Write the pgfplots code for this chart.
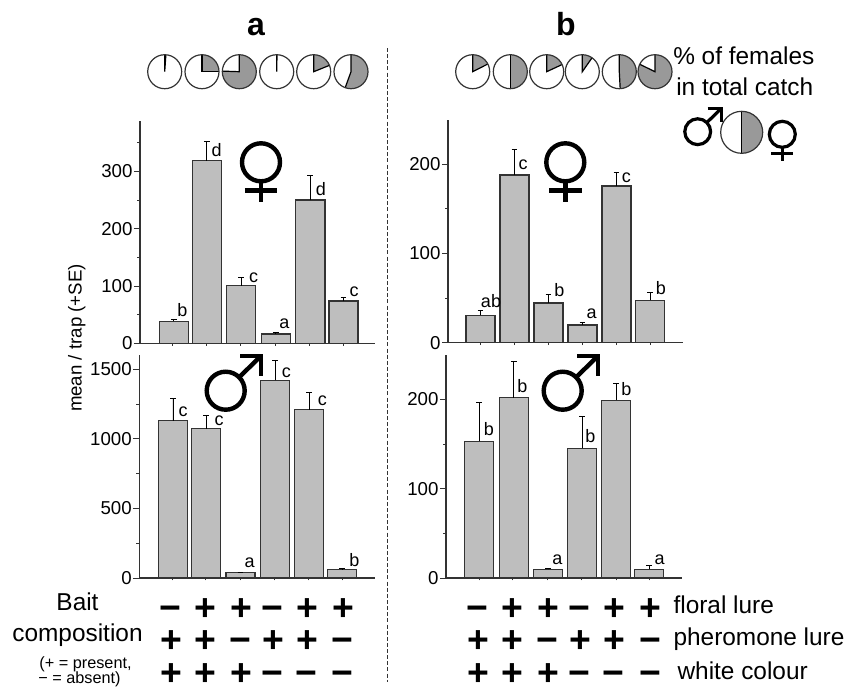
\documentclass[border=0pt]{standalone}
\usepackage{fontspec}
\setmainfont{Liberation Sans}
\usepackage{pgfplots}
\usepackage{pgfplotstable}
\pgfplotsset{compat=1.18}

\definecolor{barfill}{HTML}{BEBEBE}
\definecolor{piefill}{HTML}{999999}
\definecolor{axisdark}{HTML}{333333}

% one table per panel: bar centre, mean, SE
\pgfplotstableread{
x y e
173.7 38.4 4.0
206.7 318.6 34.4
241.2 100.6 13.9
275.7 16.3 2.7
310.2 250.0 42.4
343.2 73.8 7.0
}\afemale
\pgfplotstableread{
x y e
173.0 1132 156
206.0 1072 96
240.5 38 0
275.0 1420 147
309.3 1211 121
342.0 60 7
}\amale
\pgfplotstableread{
x y e
480.5 30.6 6.0
514.5 187.7 29.1
548.5 44.4 9.3
582.5 19.8 3.0
616.5 175.4 15.3
650.2 47.4 9.3
}\bfemale
\pgfplotstableread{
x y e
479.2 153 44
513.8 202 40
548.2 9.7 1.3
582.0 145 35.6
616.2 199 18.5
649.2 9.7 4.3
}\bmale

\pgfplotsset{
  panel/.style={
    scale only axis,
    anchor=south west,
    ybar,
    bar width=21.8pt,
    ymin=0,
    clip=false,
    axis lines*=left,
    axis line style={axisdark,line width=0.8pt},
    tick align=outside,
    tick style={axisdark,line width=0.7pt},
    major tick length=4.5pt,
    minor tick length=2.2pt,
    xtick style={/pgfplots/major tick length=1.8pt},
    xticklabels={},
    /pgf/number format/assume math mode=true,
    /pgf/number format/1000 sep={},
    yticklabel style={font=\fontsize{14}{16}\selectfont,inner sep=1pt},
  },
  se/.style={
    draw=axisdark,fill=barfill,line width=0.9pt,
    error bars/.cd,
    y dir=plus,
    y explicit,
    error bar style={black,line width=0.7pt},
    error mark options={black,rotate=90,mark size=2.2pt,line width=0.7pt},
  },
}

\newcommand{\femalesign}[4]{% cx, cy, scale, line width
  \begin{scope}[shift={(#1,-#2)},scale=#3,line width=#4]
    \draw (0,0) circle[radius=19];
    \draw (0,-19) -- (0,-39.4);
    \draw (-16.2,-28) -- (16.2,-28);
  \end{scope}}
\newcommand{\malesign}[4]{%
  \begin{scope}[shift={(#1,-#2)},scale=#3,line width=#4,miter limit=10]
    \draw (0,0) circle[radius=19];
    \draw (13.4,13.4) -- (35,34.5);
    \draw (14.5,34.5) -- (35,34.5) -- (35,15);
  \end{scope}}
\newcommand{\pie}[4]{% cx, cy, radius, grey share in degrees clockwise from the top
  \fill[piefill] (#1,-#2) -- ++(90:#3) arc[start angle=90,end angle=90-#4,radius=#3] -- cycle;
  \draw[black,line width=0.9pt] (#1,-#2) ++(90:#3) -- (#1,-#2) -- ++(90-#4:#3);
  \draw[axisdark,line width=0.9pt] (#1,-#2) circle[radius=#3];}
\newcommand{\biglab}{\fontsize{18.3}{20}\selectfont}

\begin{document}
\begin{tikzpicture}[x=0.75pt,y=0.75pt]
\path[use as bounding box] (0,0) rectangle (847,-687);

\coordinate (pa1) at (140,-343.3);
\coordinate (pa2) at (139.3,-578);
\coordinate (pb1) at (448,-342.7);
\coordinate (pb2) at (446,-578);

\begin{axis}[panel,at={(pa1)},width=235*0.75pt,height=222.3*0.75pt,
  xmin=140,xmax=375,ymax=388,
  xtick={172.7,206,240.7,275,309.3,342.7},
  ytick={0,100,200,300},minor ytick={50,150,250,350}]
  \addplot[se] table[x=x,y=y,y error plus=e] {\afemale};
\end{axis}
\begin{axis}[panel,at={(pa2)},width=235.7*0.75pt,height=223*0.75pt,
  xmin=139.3,xmax=375,ymax=1603,
  xtick={172.7,205.3,240,274.3,308.7,342},
  ytick={0,500,1000,1500},minor ytick={250,750,1250}]
  \addplot[se] table[x=x,y=y,y error plus=e] {\amale};
\end{axis}
\begin{axis}[panel,at={(pb1)},width=235.3*0.75pt,height=222.7*0.75pt,
  xmin=448,xmax=683.3,ymax=249.3,
  xtick={480.7,514,548.3,582.3,616.7,650},
  ytick={0,100,200},minor ytick={50,150}]
  \addplot[se] table[x=x,y=y,y error plus=e] {\bfemale};
\end{axis}
\begin{axis}[panel,at={(pb2)},width=235.7*0.75pt,height=223*0.75pt,
  xmin=446,xmax=681.7,ymax=249.6,
  xtick={479.3,512.7,547,581.7,616,649.7},
  ytick={0,100,200},minor ytick={50,150}]
  \addplot[se] table[x=x,y=y,y error plus=e] {\bmale};
\end{axis}

% significance letters
\tikzset{sig/.style={anchor=base,inner sep=0pt,font=\fontsize{13.5}{15}\selectfont}}
\foreach \x/\y/\t in {182.3/316.7/b,216.7/156.7/d,253.7/282.7/c,284.3/328.3/a,321/195.7/d,354/296.7/c,
  183/416.7/c,219/425.3/c,249.7/567.3/a,286.3/377.3/c,322.3/405.7/c,354.3/566/b,
  491/307.3/ab,523/169.7/c,559.3/296.7/b,591.7/318/a,626.3/182/c,661/294.7/b,
  489/435.7/b,522.3/392.3/b,557.3/564.3/a,590.3/442.3/b,626.3/395.7/b,659.7/564/a}
  {\node[sig] at (\x,-\y) {\t};}

\node[rotate=90,anchor=base,inner sep=0pt,font=\fontsize{14}{16}\selectfont] at (81.7,-338) {mean / trap (+SE)};

% divider and panel letters
\draw[axisdark,line width=0.7pt,dash pattern=on 3pt off 1.6pt] (387.7,-48) -- (387.7,-682);
\node[anchor=base,inner sep=0pt,font=\fontsize{24}{26}\bfseries] at (256,-35) {a};
\node[anchor=base,inner sep=0pt,font=\fontsize{24}{26}\bfseries] at (566,-35) {b};

% share of females in total catch
\foreach \c/\a in {164.7/4,202/90,239.3/272,276.7/1,313.7/68,351/200,
                   472.7/63,510.3/180,546.7/65,582.3/35,619.3/177,655/296}
  {\pie{\c}{71.7}{17}{\a}}
\pie{741.7}{132.3}{21}{180}

\node[anchor=base west,inner sep=0pt,font=\biglab] at (673,-64.3) {\% of females};
\node[anchor=base west,inner sep=0pt,font=\biglab] at (676,-95) {in total catch};

% sex signs
\femalesign{261}{162.3}{1}{3.3pt}
\femalesign{565.3}{162.3}{1}{3.3pt}
\femalesign{782.3}{134.3}{0.684}{2.4pt}
\malesign{225.7}{390.7}{1}{3.3pt}
\malesign{562.7}{390.7}{1}{3.3pt}
\malesign{697.7}{131.7}{0.68}{2.4pt}

% bait composition
\tikzset{sym/.style={anchor=base,inner sep=0pt,font=\fontsize{28}{30}\bfseries}}
\foreach \x/\s in {170.7/−,205/+,241.3/+,272.3/−,307/+,343.7/+,
                   477.3/−,512.3/+,548.7/+,579.3/−,614.3/+,650.7/+}
  {\node[sym] at (\x,-620.5) {\s};}
\foreach \x/\s in {171/+,205/+,240/−,273.3/+,307/+,342.7/−,
                   478.3/+,512.3/+,547.7/−,580.3/+,614.3/+,650/−}
  {\node[sym] at (\x,-652.5) {\s};}
\foreach \x/\s in {171/+,205/+,241.3/+,272.3/−,306/−,342.7/−,
                   478.3/+,512.3/+,548.7/+,579.3/−,613.3/−,650/−}
  {\node[sym] at (\x,-685.2) {\s};}

\node[anchor=base,inner sep=0pt,font=\biglab] at (77.5,-610.7) {Bait};
\node[anchor=base,inner sep=0pt,font=\biglab] at (77.5,-641) {composition};
\node[anchor=base,inner sep=0pt,font=\fontsize{12.2}{14}\selectfont] at (85.5,-668) {(+ = present,};
\node[anchor=base,inner sep=0pt,font=\fontsize{12.2}{14}\selectfont] at (79.5,-683.5) {− = absent)};

\node[anchor=base west,inner sep=0pt,font=\biglab] at (673.3,-613.3) {floral lure};
\node[anchor=base west,inner sep=0pt,font=\biglab] at (673.3,-645) {pheromone lure};
\node[anchor=base west,inner sep=0pt,font=\biglab] at (677.3,-679.3) {white colour};
\end{tikzpicture}
\end{document}
